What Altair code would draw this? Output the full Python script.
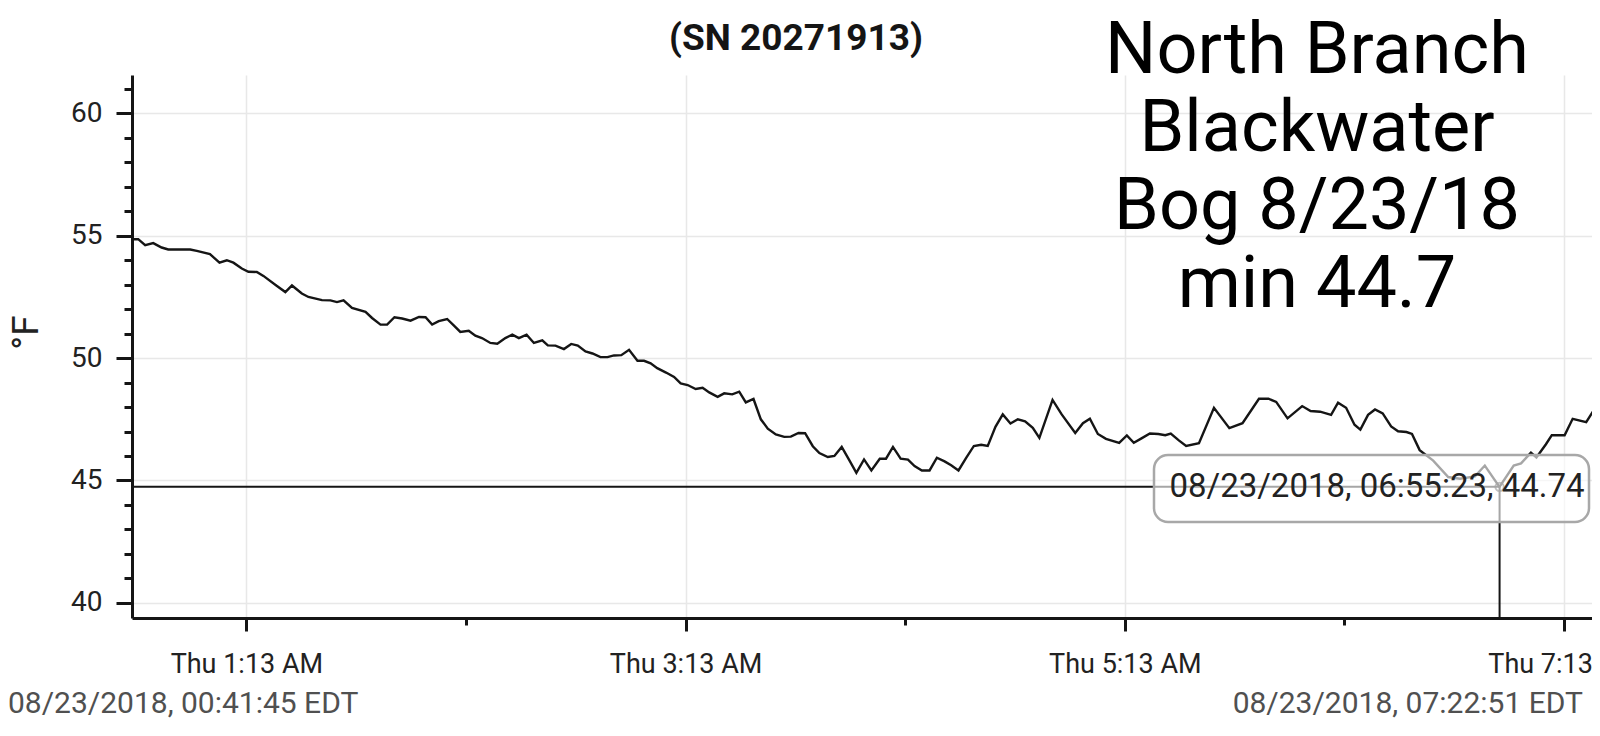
import altair as alt
import pandas as pd

# ---------------- data ----------------
START = "2018-08-23T00:41:45"
ELAPSED_MIN = [
    0, 1.7, 3.6, 5.8, 8.1, 9.9, 15.9, 17.7, 21.3, 23.9, 25.9, 27.7, 30.0, 31.8, 34.1, 35.9,
    39.6, 41.9, 43.7, 46.4, 48.2, 51.9, 54.2, 56.0, 57.8, 60.1, 63.8, 65.6, 67.9, 69.7,
    71.7, 73.8, 76.1, 78.4, 80.2, 82.0, 83.8, 86.1, 87.9, 89.7, 92.0, 93.8, 95.6, 97.9,
    99.8, 102.0, 103.9, 105.7, 107.8, 109.8, 112.1, 113.6, 115.7, 118.0, 120.0, 121.8,
    123.9, 125.8, 128.0, 129.9, 131.7, 133.7, 135.8, 138.1, 139.9, 141.7, 143.5, 145.9,
    148.1, 149.9, 151.8, 154.0, 155.9, 157.7, 160.0, 161.8, 164.0, 165.9, 167.7, 169.8,
    171.8, 173.7, 175.9, 178.2, 180.0, 182.1, 183.9, 186.0, 187.8, 190.1, 191.9, 193.9,
    196.0, 197.9, 200.0, 202.0, 204.3, 206.0, 207.9, 210.0, 212.0, 213.8, 215.8, 217.9,
    219.9, 222.0, 223.8, 225.8, 227.9, 230.0, 232.0, 233.8, 235.9, 237.9, 240.0, 242.0,
    244.0, 246.1, 247.9, 251.5, 254.0, 257.7, 259.8, 261.7, 263.9, 266.1, 269.7, 271.8,
    273.7, 275.8, 278.1, 280.4, 282.3, 283.8, 286.0, 288.0, 291.5, 295.6, 299.8, 303.4,
    307.9, 310.5, 312.6, 315.7, 319.7, 322.0, 324.6, 327.6, 329.5, 331.7, 334.0, 335.6,
    337.7, 339.6, 341.7, 344.0, 345.9, 348.2, 349.7, 351.8, 355.5, 359.6, 362.8, 366.9,
    369.6, 373.6, 377.5, 379.5, 382.2, 383.7, 386.3, 387.9, 391.4, 393.6, 397.3, 399.4,
    401.1,
]
TEMP_F = [
    54.86, 54.86, 54.62, 54.70, 54.52, 54.44, 54.44, 54.38, 54.25, 53.90, 54.00, 53.90,
    53.66, 53.53, 53.52, 53.36, 52.95, 52.70, 52.97, 52.64, 52.50, 52.37, 52.36, 52.29,
    52.36, 52.05, 51.89, 51.64, 51.37, 51.37, 51.67, 51.62, 51.53, 51.68, 51.67, 51.37,
    51.51, 51.60, 51.34, 51.07, 51.12, 50.92, 50.82, 50.62, 50.59, 50.82, 50.96, 50.82,
    50.96, 50.62, 50.73, 50.52, 50.51, 50.37, 50.58, 50.51, 50.27, 50.19, 50.04, 50.04,
    50.11, 50.12, 50.34, 49.89, 49.89, 49.79, 49.59, 49.41, 49.23, 48.97, 48.90, 48.74,
    48.79, 48.60, 48.42, 48.56, 48.52, 48.63, 48.19, 48.33, 47.50, 47.12, 46.88, 46.78,
    46.79, 46.94, 46.93, 46.40, 46.12, 45.96, 46.00, 46.37, 45.82, 45.31, 45.86, 45.41,
    45.89, 45.89, 46.37, 45.89, 45.85, 45.59, 45.41, 45.41, 45.93, 45.78, 45.62, 45.41,
    45.92, 46.41, 46.46, 46.41, 47.19, 47.70, 47.33, 47.50, 47.42, 47.15, 46.74, 48.29,
    47.70, 46.94, 47.34, 47.52, 46.90, 46.70, 46.54, 46.84, 46.54, 46.72, 46.92, 46.90,
    46.85, 46.92, 46.64, 46.41, 46.52, 47.97, 47.14, 47.34, 48.34, 48.34, 48.21, 47.54,
    48.04, 47.84, 47.81, 47.68, 48.18, 47.97, 47.28, 47.08, 47.68, 47.90, 47.74, 47.21,
    47.01, 46.98, 46.90, 46.24, 45.81, 45.14, 45.07, 45.17, 45.61, 44.74, 45.61, 45.70,
    46.14, 45.94, 46.48, 46.85, 46.85, 47.52, 47.38, 47.88, 48.14,
]
MIN_TIME = "2018-08-23T06:55:23"
MIN_TEMP = 44.74

DOMAIN_START = (0, 41, 45)
DOMAIN_END = (7, 20, 38)
X_TICK_HOURS = [1, 2, 3, 4, 5, 6, 7]
X_TICK_MINUTE = 13
Y_TICKS = list(range(40, 62))
Y_DOMAIN = [39.38, 61.57]

TITLE = "(SN 20271913)"
NOTE_LINES = ["North Branch", "Blackwater", "Bog 8/23/18", "min 44.7"]
START_LABEL = "08/23/2018, 00:41:45 EDT"
END_LABEL = "08/23/2018, 07:22:51 EDT"
TOOLTIP = "08/23/2018, 06:55:23, 44.74"

# ---------------- build tables ----------------
start = pd.Timestamp(START)
df = pd.DataFrame({
    "time": [(start + pd.Timedelta(minutes=m)).strftime("%Y-%m-%dT%H:%M:%S") for m in ELAPSED_MIN],
    "temp": TEMP_F,
})
min_df = pd.DataFrame({
    "time": [MIN_TIME], "temp": [MIN_TEMP],
    "t0": [START], "floor": [Y_DOMAIN[0]], "label": [TOOLTIP],
})
one = pd.DataFrame({"a": [0]})

W, H = 1460, 543
FONT = "Roboto"
INK = "#151515"


def dt(h, m, s=0):
    return alt.DateTime(year=2018, month=8, date=23, hours=h, minutes=m, seconds=s)


x_scale = alt.Scale(domain=[dt(*DOMAIN_START), dt(*DOMAIN_END)], nice=False)
y_scale = alt.Scale(domain=Y_DOMAIN, nice=False, zero=False)

x_axis = alt.Axis(
    values=[dt(h, X_TICK_MINUTE) for h in X_TICK_HOURS],
    labelExpr="hours(datum.value) % 2 == 1 ? timeFormat(datum.value, '%a %-I:%M %p') : ''",
    tickSize={"condition": {"test": "hours(datum.value) % 2 == 0", "value": 7}, "value": 13},
    tickWidth=3, tickColor=INK, domainColor=INK, domainWidth=3,
    grid=True, gridColor="#e8e8e8", gridWidth=1.5,
    gridOpacity={"condition": {"test": "hours(datum.value) % 2 == 1", "value": 1}, "value": 0},
    labelFont=FONT, labelFontSize=27, labelColor="#222", labelPadding=20,
    labelFlush=False, labelOverlap=False, title=None,
)
y_axis = alt.Axis(
    values=Y_TICKS,
    labelExpr="datum.value % 5 == 0 ? format(datum.value, 'd') : ''",
    tickSize={"condition": {"test": "datum.value % 5 != 0", "value": 8}, "value": 16},
    tickWidth=3, tickColor=INK, domainColor=INK, domainWidth=3,
    grid=True, gridColor="#e8e8e8", gridWidth=1.5,
    gridOpacity={"condition": {"test": "datum.value % 5 == 0", "value": 1}, "value": 0},
    labelFont=FONT, labelFontSize=28, labelColor="#222", labelPadding=14,
    labelOverlap=False, labelFlush=False, labelSeparation=0,
    title="°F", titleFont=FONT, titleFontSize=37, titleFontWeight="normal", titleColor="#222",
    titleAngle=270, titleX=-106, titleY=257, titleAlign="center", titleBaseline="middle",
)


def X(field):
    return alt.X(field, scale=x_scale, axis=x_axis)


def Y(field):
    return alt.Y(field, scale=y_scale, axis=y_axis)


line = alt.Chart(df).mark_line(color=INK, strokeWidth=2.4, clip=True).encode(
    x=X("time:T"), y=Y("temp:Q"),
)

hrule = alt.Chart(min_df).mark_rule(color=INK, strokeWidth=2).encode(
    x=X("t0:T"), x2="time:T", y=Y("temp:Q")
)
vrule = alt.Chart(min_df).mark_rule(color=INK, strokeWidth=2).encode(
    x=X("time:T"), y=Y("temp:Q"), y2="floor:Q"
)
dot = alt.Chart(min_df).mark_point(shape="circle", filled=False, size=70, color=INK, strokeWidth=2).encode(
    x=X("time:T"), y=Y("temp:Q")
)

box = alt.Chart(one).mark_rect(
    fill="white", fillOpacity=0.62, stroke="#a8a8a8", strokeWidth=2.5, cornerRadius=14
).encode(x=alt.value(1022), x2=alt.value(1457), y=alt.value(380), y2=alt.value(447))

tip = alt.Chart(min_df).mark_text(
    font=FONT, fontSize=33, color="#222", align="center", baseline="middle"
).encode(x=alt.value(1245), y=Y("temp:Q"), text="label:N")

title = alt.Chart(one).mark_text(
    text=TITLE, font=FONT, fontSize=37, fontWeight="bold", color=INK, align="center", baseline="middle"
).encode(x=alt.value(664), y=alt.value(-36))

note = alt.Chart(one).mark_text(
    text=NOTE_LINES, font=FONT, fontSize=72, lineHeight=78, color="#000",
    align="center", baseline="alphabetic"
).encode(x=alt.value(1185), y=alt.value(-2))

left_lab = alt.Chart(one).mark_text(
    text=START_LABEL, font=FONT, fontSize=30, color="#505050", align="left", baseline="alphabetic"
).encode(x=alt.value(-124), y=alt.value(638))

right_lab = alt.Chart(one).mark_text(
    text=END_LABEL, font=FONT, fontSize=30, color="#505050", align="right", baseline="alphabetic"
).encode(x=alt.value(1451), y=alt.value(638))

chart = alt.layer(
    line, hrule, vrule, dot, box, tip, title, note, left_lab, right_lab
).properties(
    width=W, height=H,
    padding={"left": 124, "top": 67, "right": 0, "bottom": 108},
    autosize=alt.AutoSizeParams(type="none"),
    background="white",
).configure_view(stroke=None)

chart.save("out.html", embed_options={"renderer": "svg", "actions": False})
